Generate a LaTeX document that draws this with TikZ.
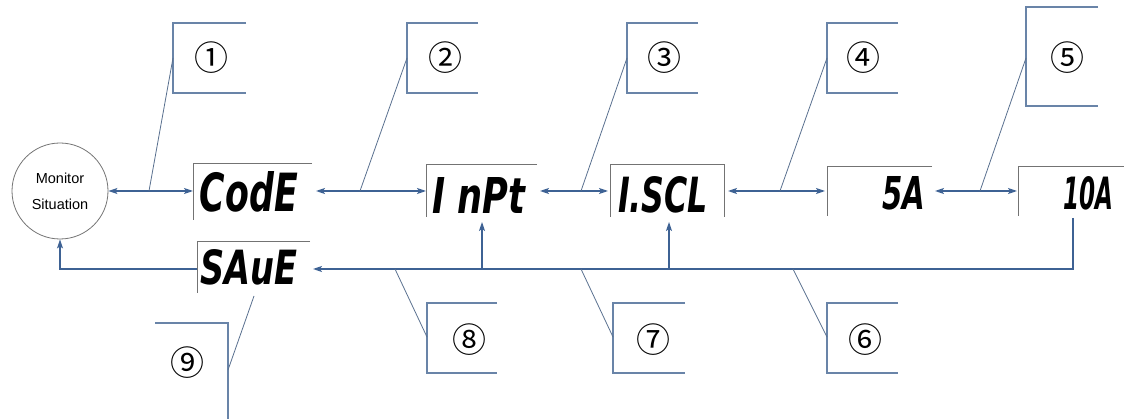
\documentclass[tikz,border=0pt]{standalone}
\usepackage{graphicx}
\usepackage{fontspec}
\setmainfont{Liberation Sans}
\newfontfamily\segfont{DejaVu Sans}
\newfontfamily\cjkfont{Noto Sans CJK SC}
\usetikzlibrary{arrows.meta}
\definecolor{flow}{RGB}{62,98,148}
\definecolor{frame}{RGB}{105,132,168}
\definecolor{dispframe}{RGB}{115,115,115}
\newcommand{\segtext}[3]{\resizebox{#1pt}{#2pt}{\segfont\bfseries\itshape #3}}
\begin{document}
\begin{tikzpicture}[x=1pt,y=-1pt,
  flowline/.style={draw=flow,line width=1.3pt},
  tip/.style={-{Stealth[length=9pt,width=6pt,inset=2pt]}},
  twotip/.style={{Stealth[length=9pt,width=6pt,inset=2pt]}-{Stealth[length=9pt,width=6pt,inset=2pt]}},
  callbox/.style={draw=frame,line width=1.2pt},
  leader/.style={draw=frame!85!black,line width=0.8pt},
  dispbox/.style={draw=dispframe,line width=0.8pt},
  disp/.style={inner sep=0pt,outer sep=0pt},
  num/.style={font=\cjkfont\fontsize{34}{34}\selectfont,inner sep=0pt}]
\useasboundingbox (0,0) rectangle (1124,419);

% monitor circle
\node[circle,draw=dispframe,line width=0.8pt,minimum size=96pt,inner sep=0pt,
      align=center,font=\fontsize{14.5}{26}\selectfont] (mon) at (60,191) {Monitor\\Situation};

% display texts
\node[disp] (code) at (249,192) {\segtext{98}{40}{CodE}};
\node[disp] (inpt) at (478.5,195) {\segtext{93}{36}{I nPt}};
\node[disp] (iscl) at (663,195) {\segtext{90}{36}{I.SCL}};
\node[disp] (fivea) at (903.5,193.5) {\segtext{43}{33}{5A}};
\node[disp] (tena) at (1088,193.5) {\segtext{50}{33}{10A}};
\node[disp] (save) at (248.5,267.5) {\segtext{97}{35}{SAuE}};

% display frames
\draw[dispbox] (312,163) -| (193,220);
\draw[dispbox] (537,164) -| (426,217);
\draw[dispbox] (610,217) |- (724,164) -- (724,217);
\draw[dispbox] (932,166) -| (827,216);
\draw[dispbox] (1124,166) -| (1018,216);
\draw[dispbox] (310,241) -| (197,293);

% connection points
\coordinate (codeL) at (193,191);
\coordinate (codeR) at (316,191);
\coordinate (inptL) at (426,191);
\coordinate (inptR) at (540,191);
\coordinate (isclL) at (608,191);
\coordinate (isclR) at (728,191);
\coordinate (fiveL) at (825,191);
\coordinate (fiveR) at (935,191);
\coordinate (tenL) at (1017,191);
\coordinate (tenB) at (1073,218);
\coordinate (busR) at (1073,269);
\coordinate (busInpt) at (482,269);
\coordinate (busIscl) at (669,269);
\coordinate (inptB) at (482,222);
\coordinate (isclB) at (669,222);
\coordinate (saveR) at (313,269);
\coordinate (saveL) at (197,269);
\coordinate (corner) at (60,269);

% flow arrows
\draw[flowline,twotip] (mon.east) -- (codeL);
\draw[flowline,twotip] (codeR) -- (inptL);
\draw[flowline,twotip] (inptR) -- (isclL);
\draw[flowline,twotip] (isclR) -- (fiveL);
\draw[flowline,twotip] (fiveR) -- (tenL);
\draw[flowline,tip] (tenB) -- (busR) -- (saveR);
\draw[flowline,tip] (busInpt) -- (inptB);
\draw[flowline,tip] (busIscl) -- (isclB);
\draw[flowline,tip] (saveL) -- (corner) -- (mon.south);

% callout boxes
\draw[callbox] (246,23) -| (173,93) -- (246,93);
\draw[callbox] (478,23) -| (407,93) -- (478,93);
\draw[callbox] (698,23) -| (627,93) -- (698,93);
\draw[callbox] (898,23) -| (827,93) -- (898,93);
\draw[callbox] (1098,7) -| (1026,106) -- (1098,106);
\draw[callbox] (898,303) -| (827,373) -- (898,373);
\draw[callbox] (685,303) -| (613,373) -- (685,373);
\draw[callbox] (497,303) -| (427,373) -- (497,373);
\draw[callbox] (155,323) -| (228,419);

% numbers
\node[num] (n1) at (211,58) {①};
\node[num] (n2) at (445,58) {②};
\node[num] (n3) at (664,58) {③};
\node[num] (n4) at (863,58) {④};
\node[num] (n5) at (1067,58) {⑤};
\node[num] (n6) at (865,340) {⑥};
\node[num] (n7) at (653,340) {⑦};
\node[num] (n8) at (469,340) {⑧};
\node[num] (n9) at (187,363) {⑨};

% leader anchors
\coordinate (b1) at (173,58);
\coordinate (j1) at (149,191);
\coordinate (b2) at (407,58);
\coordinate (j2) at (360,191);
\coordinate (b3) at (627,58);
\coordinate (j3) at (581,191);
\coordinate (b4) at (827,58);
\coordinate (j4) at (780,191);
\coordinate (b5) at (1026,58);
\coordinate (j5) at (980,191);
\coordinate (b6) at (827,337);
\coordinate (j6) at (793,269);
\coordinate (b7) at (613,337);
\coordinate (j7) at (581,269);
\coordinate (b8) at (427,337);
\coordinate (j8) at (395,269);
\coordinate (b9) at (228,370);
\coordinate (j9) at (254,296);

\draw[leader] (b1) -- (j1);
\draw[leader] (b2) -- (j2);
\draw[leader] (b3) -- (j3);
\draw[leader] (b4) -- (j4);
\draw[leader] (b5) -- (j5);
\draw[leader] (b6) -- (j6);
\draw[leader] (b7) -- (j7);
\draw[leader] (b8) -- (j8);
\draw[leader] (b9) -- (j9);
\end{tikzpicture}
\end{document}
